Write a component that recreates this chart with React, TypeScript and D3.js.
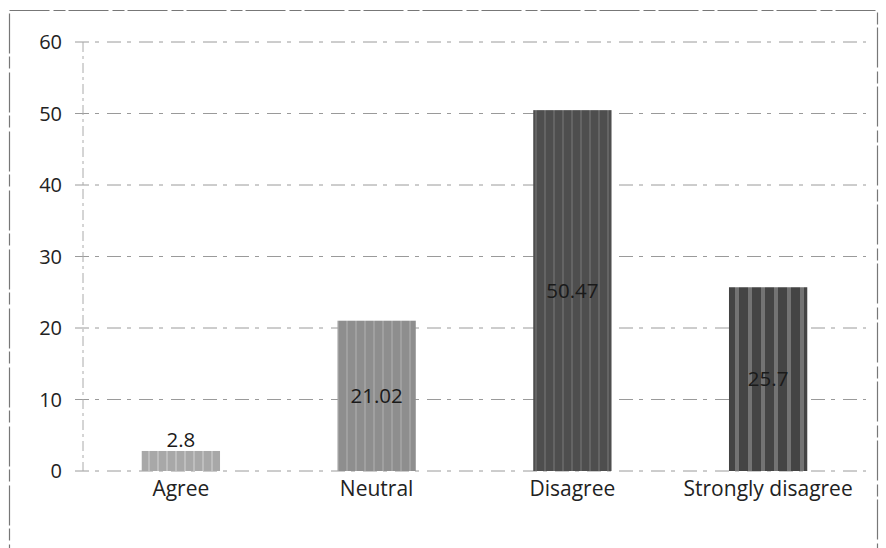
import React, { useRef, useEffect } from "react";
import * as d3 from "d3";

const categories = ["Agree", "Neutral", "Disagree", "Strongly disagree"];
const values = [2.8, 21.02, 50.47, 25.7];
const valueLabels = ["2.8", "21.02", "50.47", "25.7"];
const yTicks = [0, 10, 20, 30, 40, 50, 60];

const barFills = ["#a8a8a8", "#8e8e8e", "#4e4e4e", "#444444"];
const stripeFills = ["#c8c8c8", "#a8a8a8", "#6e6e6e", "#888888"];

const FONT = "'Open Sans', Lato, sans-serif";

export default function App() {
    const svgRef = useRef<SVGSVGElement>(null);
    const width = 886;
    const height = 548;

    useEffect(() => {
        if (!svgRef.current) return;
        const svg = d3.select(svgRef.current);
        svg.selectAll("*").remove();

        const margin = { top: 42, right: 20, bottom: 77, left: 83 };
        const innerW = width - margin.left - margin.right;
        const innerH = height - margin.top - margin.bottom;

        svg.append("rect")
            .attr("width", width)
            .attr("height", height)
            .attr("fill", "#fff");

        // scanned frame
        svg.append("rect")
            .attr("x", 9.5)
            .attr("y", 10.5)
            .attr("width", 868)
            .attr("height", 540)
            .attr("fill", "none")
            .attr("stroke", "#777")
            .attr("stroke-width", 1.2)
            .attr("stroke-dasharray", "40 4 12 3");

        // stripe patterns
        const defs = svg.append("defs");
        categories.forEach((c, i) => {
            const w = i === 3 ? 13 : 9;
            const p = defs.append("pattern")
                .attr("id", `pat${i}`)
                .attr("patternUnits", "userSpaceOnUse")
                .attr("width", w)
                .attr("height", 6);
            p.append("rect")
                .attr("width", w)
                .attr("height", 6)
                .attr("fill", barFills[i]);
            p.append("rect")
                .attr("x", 2)
                .attr("width", i === 3 ? 4 : 2)
                .attr("height", 6)
                .attr("fill", stripeFills[i])
                .attr("opacity", 0.7);
        });

        const g = svg.append("g")
            .attr("transform", `translate(${margin.left},${margin.top})`);

        const x = d3.scaleBand()
            .domain(categories)
            .range([0, innerW])
            .paddingInner(0.6)
            .paddingOuter(0.3);

        const y = d3.scaleLinear()
            .domain([0, 60])
            .range([innerH, 0]);

        // grid
        g.append("g")
            .selectAll("line")
            .data(yTicks)
            .join("line")
            .attr("x1", -8)
            .attr("x2", innerW)
            .attr("y1", d => y(d))
            .attr("y2", d => y(d))
            .attr("stroke", "#9a9a9a")
            .attr("stroke-width", 1)
            .attr("stroke-dasharray", "14 6 4 8");

        // y axis line
        g.append("line")
            .attr("x1", 0)
            .attr("x2", 0)
            .attr("y1", 0)
            .attr("y2", innerH)
            .attr("stroke", "#aaa")
            .attr("stroke-dasharray", "10 4 3 4");

        // y labels
        g.append("g")
            .selectAll("text")
            .data(yTicks)
            .join("text")
            .attr("x", -21)
            .attr("y", d => y(d))
            .attr("dy", "0.35em")
            .attr("text-anchor", "end")
            .attr("font-family", FONT)
            .attr("font-size", 20)
            .attr("fill", "#222")
            .text(d => d);

        // bars
        g.append("g")
            .selectAll("rect")
            .data(values)
            .join("rect")
            .attr("x", (d, i) => x(categories[i])!)
            .attr("y", d => y(d))
            .attr("width", x.bandwidth())
            .attr("height", d => innerH - y(d))
            .attr("fill", (d, i) => `url(#pat${i})`);

        // value labels
        g.append("g")
            .selectAll("text")
            .data(values)
            .join("text")
            .attr("x", (d, i) => x(categories[i])! + x.bandwidth() / 2)
            .attr("y", d => d < 5 ? y(d) - 4 : y(d / 2))
            .attr("dy", d => d < 5 ? "0" : "0.35em")
            .attr("text-anchor", "middle")
            .attr("font-family", FONT)
            .attr("font-size", 20.5)
            .attr("fill", "#1a1a1a")
            .text((d, i) => valueLabels[i]);

        // category labels
        g.append("g")
            .selectAll("text")
            .data(categories)
            .join("text")
            .attr("x", d => x(d)! + x.bandwidth() / 2)
            .attr("y", innerH + 18)
            .attr("dy", "0.35em")
            .attr("text-anchor", "middle")
            .attr("font-family", FONT)
            .attr("font-size", 21)
            .attr("fill", "#222")
            .text(d => d);
    }, []);

    return (
        <div style={{ width, height }}>
            <svg ref={svgRef} width={width} height={height} style={{ position: "absolute", left: 0, top: 0 }} />
        </div>
    );
}
